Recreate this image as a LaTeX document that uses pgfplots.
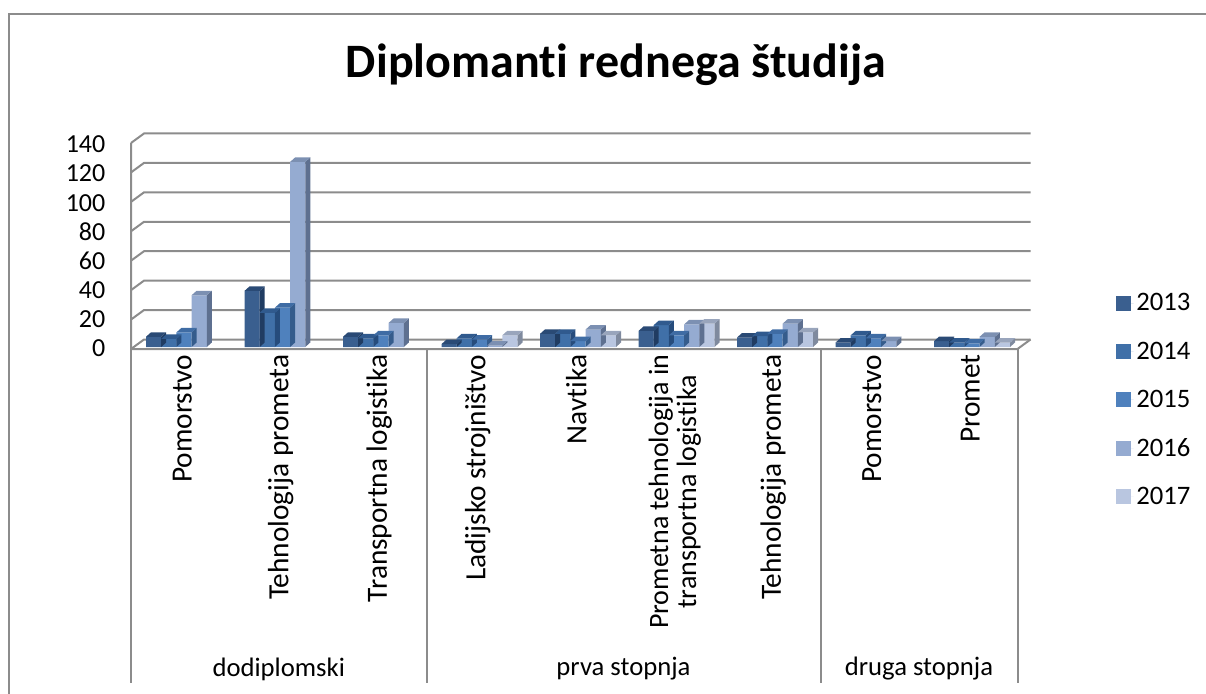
\documentclass[border=0pt]{standalone}
\usepackage{pgfplots}
\pgfplotsset{compat=1.18}
\usepackage{pgfplotstable}
\usepackage{fontspec}
\setmainfont[Ligatures={NoCommon}]{Carlito}
\newlength{\px}\setlength{\px}{0.75pt}
\definecolor{cA}{HTML}{3A5F8F}\definecolor{cAt}{HTML}{2A4A75}\definecolor{cAs}{HTML}{203C62}
\definecolor{cB}{HTML}{4070A8}\definecolor{cBt}{HTML}{305A8E}\definecolor{cBs}{HTML}{264C7C}
\definecolor{cC}{HTML}{4F81BD}\definecolor{cCt}{HTML}{3F6CA4}\definecolor{cCs}{HTML}{355C8C}
\definecolor{cD}{HTML}{95ABD1}\definecolor{cDt}{HTML}{7C90B2}\definecolor{cDs}{HTML}{5E7090}
\definecolor{cE}{HTML}{B9C6E0}\definecolor{cEt}{HTML}{99A5BC}\definecolor{cEs}{HTML}{7F8A9E}
\definecolor{wall}{HTML}{8C8C8C}
\pgfplotsset{swatch/.style={legend image code/.code={\path (0pt,0pt) -- (13pt,0pt);\fill[##1] (0pt,-5.6pt) rectangle (11.25pt,5.6pt);}}}
% 3D top and side faces of one bar: #1 name, #2 shift in px, #3 top colour, #4 side colour
\newcommand{\declarebar}[4]{%
\pgfdeclareplotmark{#1}{%
  \pgfmathsetlengthmacro{\hh}{\yv*1.457*\px}%
  \pgfmathsetlengthmacro{\xl}{(#2-7.6)*\px}%
  \pgfmathsetlengthmacro{\xr}{(#2+7.6)*\px}%
  \pgfmathsetlengthmacro{\xb}{(#2+7.6+5)*\px}%
  \pgfmathsetlengthmacro{\xc}{(#2-7.6+5)*\px}%
  \pgfmathsetlengthmacro{\dd}{4.5*\px}%
  \pgfsetfillcolor{#4}\pgfsetstrokeopacity{0}%
  \pgfpathmoveto{\pgfqpoint{\xr}{0pt}}%
  \pgfpathlineto{\pgfqpoint{\xb}{\dd}}%
  \pgfpathlineto{\pgfpoint{\xb}{\dd-\hh}}%
  \pgfpathlineto{\pgfpoint{\xr}{-\hh}}%
  \pgfpathclose\pgfusepathqfill
  \pgfsetfillcolor{#3}%
  \pgfpathmoveto{\pgfqpoint{\xl}{0pt}}%
  \pgfpathlineto{\pgfqpoint{\xc}{\dd}}%
  \pgfpathlineto{\pgfqpoint{\xb}{\dd}}%
  \pgfpathlineto{\pgfqpoint{\xr}{0pt}}%
  \pgfpathclose\pgfusepathqfill
}}
\declarebar{barA}{-26.65}{cAt}{cAs}
\declarebar{barB}{-11.45}{cBt}{cBs}
\declarebar{barC}{3.75}{cCt}{cCs}
\declarebar{barD}{18.95}{cDt}{cDs}
\declarebar{barE}{34.15}{cEt}{cEs}
\pgfplotstableread{
x y2013 y2014 y2015 y2016 y2017
0 7 5.5 10 35.5 nan
1 38.5 23.5 27 127 nan
2 7 6 8 16.5 nan
3 2 6 5 1 8
4 9 9 4 12 8
5 11 15 8 15.5 16
6 6.5 7.5 9 16 10
7 3 8 6 4 nan
8 4 3 2.5 7 3
}\datatable
\newcommand{\oneseries}[4]{%
  \addplot[forget plot,scatter,only marks,mark=#2,
    visualization depends on={y \as \yv},
    scatter/use mapped color={draw=none,fill=none},
    unbounded coords=discard]
    table[x=x,y=#1]{\datatable};
  \addplot[ybar,bar width=15.2*\px,bar shift=#3*\px,draw=none,fill=#4,
    unbounded coords=discard,swatch]
    table[x=x,y=#1]{\datatable};
}
\begin{document}
\begin{tikzpicture}[x=0.75pt,y=0.75pt]
\path[use as bounding box] (0,0) rectangle (1206,693);
\draw[color=wall,line width=2.5*\px] (9,-1) -- (9,679) -- (1207,679);
\node[anchor=center,font=\bfseries\fontsize{36}{42}\selectfont] at (616,628) {Diplomanti rednega študija};
\begin{axis}[
  at={(131*\px,344*\px)},anchor=south west,scale only axis,
  width=886.5*\px,height=206*\px,
  xmin=-0.5,xmax=8.5,ymin=-1.37,ymax=140,
  clip=false,axis line style={draw=none},
  major tick length=0pt,
  ytick={0,20,...,140},
  xtick={0,...,8},
  xticklabels={Pomorstvo,Tehnologija prometa,Transportna logistika,Ladijsko strojništvo,Navtika,{\fontsize{21}{21}\selectfont Prometna tehnologija in\\\fontsize{21}{21}\selectfont transportna logistika},Tehnologija prometa,Pomorstvo,Promet},
  xticklabel style={rotate=90,anchor=east,align=center,yshift=-2*\px,xshift=-1*\px,font=\fontsize{22}{21}\selectfont},
  yticklabel style={font=\fontsize{19.5}{21}\selectfont,xshift=-21*\px,yshift=-1.5*\px},
  /pgf/number format/assume math mode=true,
  legend style={at={(981*\px,-51*\px)},anchor=west,draw=none,fill=none,
    font=\fontsize{20}{21}\selectfont,row sep=23.6*\px,/tikz/every even column/.append style={column sep=0pt}},
  legend cell align=left,
]
\pgfplotsinvokeforeach{0,...,7}{
  \draw[wall,line width=2*\px] (axis cs:-0.5,{-1.37+#1*20.196}) -- ++(13*\px,9.5*\px) -- ([shift={(13*\px,9.5*\px)}]axis cs:8.5,{-1.37+#1*20.196});
}
\draw[wall,line width=2*\px] (axis cs:-0.5,140) -- (axis cs:-0.5,-1.37) -- (axis cs:8.5,-1.37) -- ++(13*\px,9.5*\px);
\draw[wall,line width=2*\px] (axis cs:-0.5,-1.37) -- ++(0pt,-334*\px);
\draw[wall,line width=2*\px] (axis cs:2.5,-1.37) -- ++(0pt,-334*\px);
\draw[wall,line width=2*\px] (axis cs:6.5,-1.37) -- ++(0pt,-334*\px);
\draw[wall,line width=2*\px] (axis cs:8.5,-1.37) -- ++(0pt,-334*\px);
\node[font=\fontsize{20}{24}\selectfont] at ([yshift=-320*\px]axis cs:1,-1.37) {dodiplomski};
\node[font=\fontsize{20}{24}\selectfont] at ([yshift=-320*\px]axis cs:4.5,-1.37) {prva stopnja};
\node[font=\fontsize{20}{24}\selectfont] at ([yshift=-320*\px]axis cs:7.5,-1.37) {druga stopnja};
\oneseries{y2013}{barA}{-26.65}{cA}
\addlegendentry{2013}
\oneseries{y2014}{barB}{-11.45}{cB}
\addlegendentry{2014}
\oneseries{y2015}{barC}{3.75}{cC}
\addlegendentry{2015}
\oneseries{y2016}{barD}{18.95}{cD}
\addlegendentry{2016}
\oneseries{y2017}{barE}{34.15}{cE}
\addlegendentry{2017}
\end{axis}
\end{tikzpicture}
\end{document}
